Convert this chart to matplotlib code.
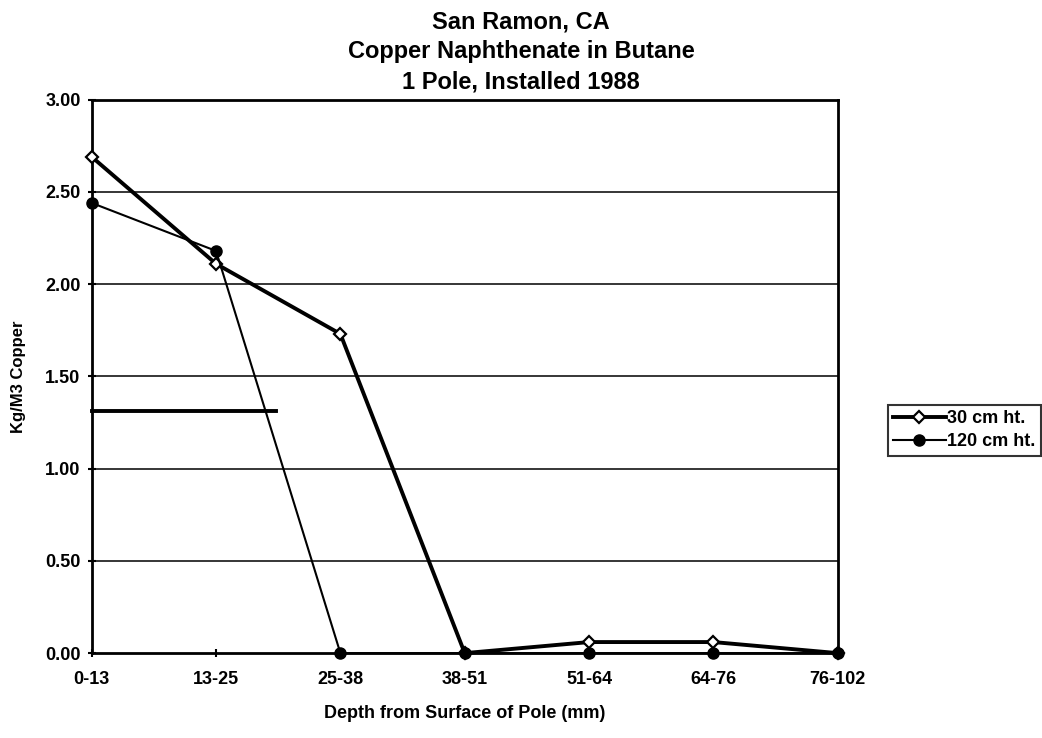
import numpy as np
import matplotlib.pyplot as plt

plt.rcParams['font.family'] = ['Liberation Sans', 'DejaVu Sans']
plt.rcParams['font.weight'] = 'bold'

depths = ['0-13', '13-25', '25-38', '38-51', '51-64', '64-76', '76-102']
cu_30cm = [2.69, 2.11, 1.73, 0.00, 0.06, 0.06, 0.00]
cu_120cm = [2.44, 2.18, 0.00, 0.00, 0.00, 0.00, 0.00]
stray_y = 1.31
stray_x = [0, 1.48]

x = np.arange(len(depths))

fig = plt.figure(figsize=(10.42, 7.38), dpi=100)
ax = fig.add_axes([0.088, 0.115, 0.716, 0.75])

for yv in [0.5, 1.0, 1.5, 2.0, 2.5]:
    ax.axhline(yv, color='black', lw=1.1, zorder=1)

ax.plot(stray_x, [stray_y, stray_y], color='black', lw=2.8, zorder=2)

ax.plot(x, cu_30cm, color='black', lw=2.8, marker='D', markersize=6.5,
        markerfacecolor='white', markeredgecolor='black', markeredgewidth=1.6,
        label='30 cm ht.', zorder=3)
ax.plot(x, cu_120cm, color='black', lw=1.5, marker='o', markersize=8,
        markerfacecolor='black', markeredgecolor='black',
        label='120 cm ht.', zorder=4)

ax.set_xlim(0, len(depths) - 1)
ax.set_ylim(0, 3.0)
ax.set_xticks(x)
ax.set_xticklabels(depths)
ax.set_yticks(np.arange(0, 3.01, 0.5))
ax.set_yticklabels([f'{v:.2f}' for v in np.arange(0, 3.01, 0.5)])
ax.tick_params(axis='both', labelsize=13, width=1.5, length=6, direction='inout')
ax.tick_params(axis='x', pad=10)
ax.tick_params(axis='y', pad=5)
for lab in ax.get_xticklabels() + ax.get_yticklabels():
    lab.set_fontweight('bold')

for s in ax.spines.values():
    s.set_linewidth(2)
    s.set_color('black')
for ln in ax.lines:
    ln.set_clip_on(False)

ax.set_xlabel('Depth from Surface of Pole (mm)', fontsize=13, fontweight='bold', labelpad=12)
ax.set_ylabel('Kg/M3 Copper', fontsize=12, fontweight='bold', labelpad=14)

fig.suptitle('San Ramon, CA\nCopper Naphthenate in Butane\n1 Pole, Installed 1988',
             fontsize=17, fontweight='bold', y=0.986, va='top', linespacing=1.38)

leg = fig.legend(loc='center left', bbox_to_anchor=(0.852, 0.417), frameon=True,
                 fancybox=False, edgecolor='black', fontsize=13, handlelength=2.9,
                 handletextpad=0.1, borderpad=0.3, labelspacing=0.35,
                 borderaxespad=0)
leg.get_frame().set_linewidth(1.5)

fig.savefig('out.png', dpi=100, facecolor='white')
